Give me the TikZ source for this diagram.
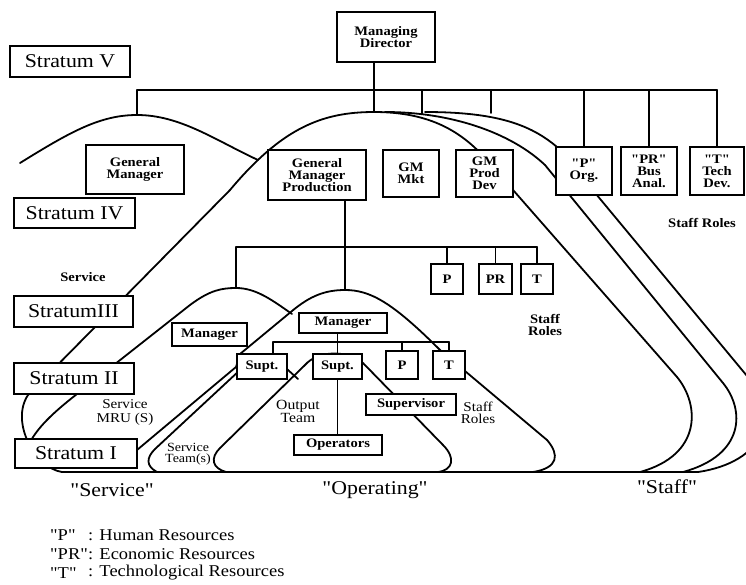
\documentclass[tikz,border=0pt]{standalone}
\usepackage{fontspec}
\setmainfont{Liberation Serif}[FakeStretch=1.12, Ligatures=TeXOff]
\pgfdeclarelayer{background}
\pgfsetlayers{background,main}
\begin{document}
\begin{tikzpicture}[x=1pt,y=-1pt,
 ln/.style={line width=1.8pt, line join=round, line cap=round},
 bx/.style={draw, line width=1.7pt, fill=white, inner sep=0pt, align=center, font=\bfseries\fontsize{13}{12}\selectfont},
 sbx/.style={draw, line width=1.6pt, fill=white, inner sep=0pt, font=\fontsize{19.5}{20}\selectfont, minimum width=120, minimum height=30},
 lbl/.style={font=\fontsize{19.5}{20}\selectfont, inner sep=0pt},
 sl/.style={align=center, inner sep=0pt, font=\fontsize{14}{12}\selectfont},
 slb/.style={align=center, inner sep=0pt, font=\bfseries\fontsize{13}{12}\selectfont},
 leg/.style={anchor=west, inner sep=0pt, font=\fontsize{16.5}{18}\selectfont}]
\useasboundingbox (0,0) rectangle (746,584);
\clip (0,0) rectangle (746,584);
% boxes
\node[bx, minimum width=98, minimum height=50] (md) at (386,37) {Managing\\Director};
\node[sbx, minimum height=31] (s5) at (70,61.5) {Stratum V};
\node[bx, minimum width=98, minimum height=49] (gml) at (135,169.5) {General\\Manager};
\node[bx, minimum width=98, minimum height=50] (gmp) at (317,175) {General\\Manager\\Production};
\node[bx, minimum width=56, minimum height=47] (gmm) at (411,173.5) {GM\\Mkt};
\node[bx, minimum width=57, minimum height=47] (gmd) at (484.5,173.5) {GM\\Prod\\Dev};
\node[bx, minimum width=56, minimum height=48] (porg) at (584,171) {"P"\\Org.};
\node[bx, minimum width=56, minimum height=48] (pbus) at (649,171) {"PR"\\Bus\\Anal.};
\node[bx, minimum width=54, minimum height=48] (tdev) at (717,171) {"T"\\Tech\\Dev.};
\node[sbx, minimum width=121] (s4) at (74.5,213) {Stratum IV};
\node[sbx, minimum width=119, minimum height=31] (s3) at (73.5,311.5) {StratumIII};
\node[sbx, minimum height=31] (s2) at (74,378.5) {Stratum II};
\node[sbx, minimum width=122, minimum height=29] (s1) at (76,453.5) {Stratum I};
\node[bx, minimum width=32, minimum height=30] (p3) at (447,279) {P};
\node[bx, minimum width=33, minimum height=30] (pr3) at (495.5,279) {PR};
\node[bx, minimum width=32, minimum height=30] (t3) at (537,279) {T};
\node[bx, minimum width=75, minimum height=23] (mgs) at (209.5,334.5) {Manager};
\node[bx, minimum width=88, minimum height=20] (mgo) at (343,323) {Manager};
\node[bx, minimum width=50, minimum height=25] (su1) at (262,366.5) {Supt.};
\node[bx, minimum width=49, minimum height=25] (su2) at (337.5,366.5) {Supt.};
\node[bx, minimum width=32, minimum height=28] (p2) at (402,365) {P};
\node[bx, minimum width=32, minimum height=28] (t2) at (449,365) {T};
\node[bx, minimum width=90, minimum height=21] (sv) at (411,404.5) {Supervisor};
\node[bx, minimum width=88, minimum height=20] (opr) at (338,445) {Operators};
% free labels
\node[slb] (srt) at (702,223) {Staff Roles};
\node[slb] (svc) at (83,277) {Service};
\node[slb] (sr3) at (545,325) {Staff\\Roles};
\node[sl, font=\fontsize{13.5}{14}\selectfont] (mru) at (125,412) {Service\\MRU (S)};
\node[sl] (otm) at (298,411) {Output\\Team};
\node[sl, font=\fontsize{12.5}{11.5}\selectfont] (stm) at (188,454) {Service\\Team(s)};
\node[sl, font=\fontsize{13.5}{12}\selectfont] (sr2) at (478,413) {Staff\\Roles};
\node[lbl] (lsv) at (112,490) {"Service"};
\node[lbl] (lop) at (375,490) {"Operating"};
\node[lbl] (lst) at (667,487) {"Staff"};
% legend
\node[leg] (k1) at (50,535) {"P"};
\node[leg] (v1) at (88,535) {: Human Resources};
\node[leg] (k2) at (50,554) {"PR"};
\node[leg] (v2) at (88,554) {: Economic Resources};
\node[leg] (k3) at (50,573) {"T"};
\node[leg] (v3) at (88,573) {: Technological Resources};
\begin{pgfonlayer}{background}
\fill[white] (0,0) rectangle (746,584);
% humps
\draw[ln] (62,472) .. controls (35,468) and (10,422) .. (28,395) -- (230,190)
  .. controls (282,128) and (322,112) .. (374,112)
  .. controls (425,112) and (458,128) .. (485,158) -- (677,377)
  .. controls (700,405) and (702,455) .. (640,472);
\draw[ln] (385,112) .. controls (450,112) and (510,132) .. (545,165) -- (723,383)
  .. controls (745,410) and (745,455) .. (683,472);
\draw[ln] (425,112) .. controls (495,112) and (530,124) .. (557,147) -- (757,388)
  .. controls (778,415) and (765,462) .. (698,472);
\draw[ln] (20,163) .. controls (70,132) and (100,115) .. (137,115)
  .. controls (180,115) and (215,140) .. (258,160);
\draw[ln] (30,442) .. controls (38,428) and (50,415) .. (77,394) -- (190,305)
  .. controls (210,290) and (222,288) .. (236,288)
  .. controls (256,288) and (272,300) .. (292,314);
\draw[ln] (122,464) -- (137,450) -- (236,367) -- (240,354) -- (292,311)
  .. controls (310,296) and (325,290) .. (345,290)
  .. controls (370,290) and (392,302) .. (440,350) -- (547,440)
  .. controls (560,455) and (558,468) .. (533,472);
\draw[ln] (226,472) .. controls (212,468) and (210,458) .. (220,448) -- (305,365)
  .. controls (318,350) and (348,350) .. (363,363) -- (443,445)
  .. controls (456,458) and (453,470) .. (438,472);
\draw[ln] (157,472) .. controls (146,466) and (146,458) .. (155,449) -- (240,370)
  .. controls (252,358) and (275,356) .. (288,370) -- (298,379);
% baseline
\coordinate (bl) at (62,472); \coordinate (br) at (698,472);
\draw[line width=2.8pt] (bl) -- (br);
% connectors
\coordinate (mtop) at (374,112);
\draw[ln] (mtop |- md.south) -- (mtop);
\coordinate (barL) at (137,90); \coordinate (barR) at (717,90);
\coordinate (lhk) at (137,115);
\draw[ln] (barL) -- (barR);
\draw[ln] (barL) -- (lhk);
\coordinate (c2t) at (422,114); \coordinate (c3t) at (491,113);
\draw[ln] (c2t |- barL) -- (c2t);
\draw[ln] (c3t |- barL) -- (c3t);
\foreach \n in {porg,pbus,tdev} \draw[ln] (\n.north |- barL) -- (\n.north);
\coordinate (opk) at (345,290);
\draw[ln] (opk |- gmp.south) -- (opk);
\coordinate (smk) at (236,288); \coordinate (b2L) at (236,247); \coordinate (b2R) at (537,247);
\draw[ln] (b2L) -- (b2R);
\draw[ln] (b2L) -- (smk);
\foreach \n in {p3,pr3,t3} \draw[ln] (\n.north |- b2L) -- (\n.north);
\coordinate (b3L) at (273,342); \coordinate (b3R) at (449,342);
\draw[ln] (b3L) -- (b3R);
\draw[ln] (b3L) -- (b3L |- su1.north);
\draw[ln] (su2.north |- mgo.south) -- (su2.north);
\foreach \n in {p2,t2} \draw[ln] (\n.north |- b3L) -- (\n.north);
\draw[ln] (su2.south) -- (su2.south |- opr.north);
\end{pgfonlayer}
\end{tikzpicture}
\end{document}
